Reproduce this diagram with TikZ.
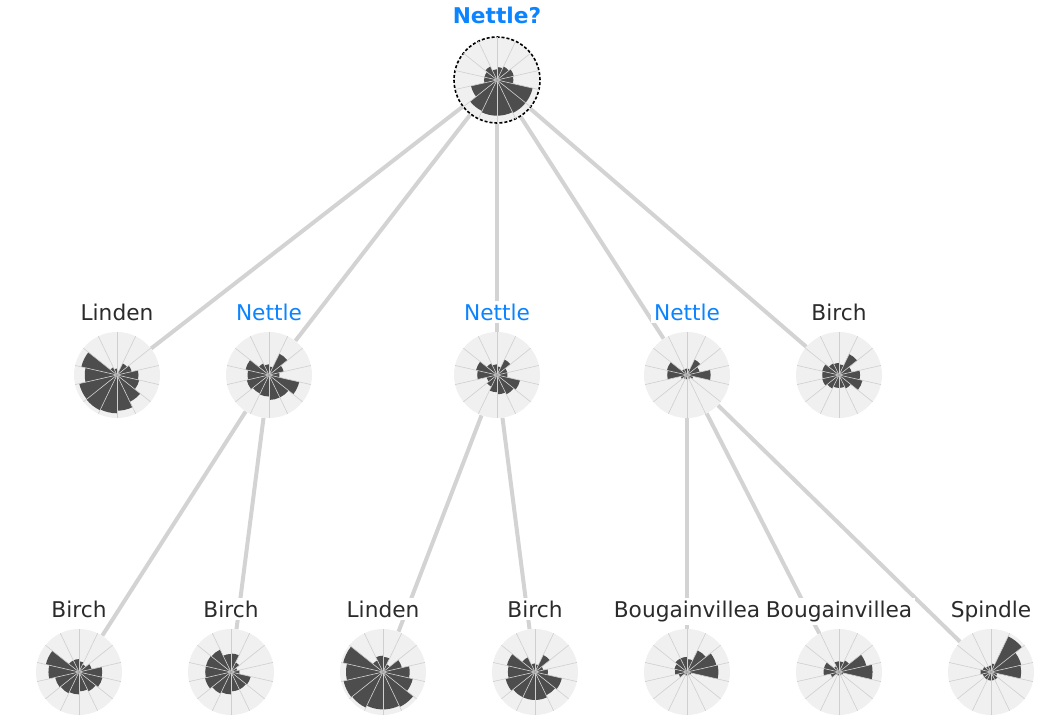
\documentclass[tikz,border=0pt]{standalone}
\usepackage{fontspec}
\setmainfont{DejaVu Sans}
\usepackage{tikz}
\usetikzlibrary{backgrounds}
\definecolor{petal}{HTML}{4D4D4D}
\definecolor{disc}{HTML}{F0F0F0}
\definecolor{spokecol}{HTML}{CFCFCF}
\definecolor{linkcol}{HTML}{D3D3D3}
\definecolor{hit}{HTML}{0A84FF}
\definecolor{ink}{HTML}{2B2B2B}
\tikzstyle{rose} = [circle, fill=disc, minimum size=86pt, inner sep=0pt]
\tikzstyle{query} = [rose, draw=black, line width=1.6pt,
    dash pattern=on 3pt off 2pt]
\tikzstyle{bar} = [fill=petal]
\tikzstyle{spoke} = [draw=spokecol, line width=0.6pt]
\tikzstyle{hub} = [fill=black!35]
\tikzstyle{link} = [draw=linkcol, line width=4pt]
\tikzstyle{tag} = [fill=white, inner sep=3pt, text=ink, anchor=base,
    font=\fontsize{21.7}{26}\selectfont]
\tikzstyle{hittag} = [tag, text=hit]

% 14 petals, first one just left of north, counter-clockwise
\newcommand{\drawrose}[2]{%
  \foreach \r [count=\k from 0] in {#2} {
    \pgfmathsetmacro\a{90+360/14*\k}
    \fill[bar] (#1.center) -- ++(\a:\r*43pt)
      arc[start angle=\a, end angle=\a+360/14, radius=\r*43pt] -- cycle;
  }
  \foreach \k in {0,...,13}
    \draw[spoke] (#1.center) -- ++({90+360/14*\k}:43pt);
  \fill[hub] (#1.center) circle (1.5pt);
}

\begin{document}
\begin{tikzpicture}[x=1pt, y=-1pt]
	\useasboundingbox (0,0) rectangle (1048,726);

	% Query
	\node [query] (q) at (497,80) {};

	% First level
	\node [rose] (linden) at (117,375) {};
	\node [rose] (nettleA) at (269,375) {};
	\node [rose] (nettleB) at (497,375) {};
	\node [rose] (nettleC) at (687,375) {};
	\node [rose] (birch) at (839,375) {};

	% Second level
	\node [rose] (birchA) at (79,672) {};
	\node [rose] (birchB) at (231,672) {};
	\node [rose] (lindenB) at (383,672) {};
	\node [rose] (birchC) at (535,672) {};
	\node [rose] (bougA) at (687,672) {};
	\node [rose] (bougB) at (839,672) {};
	\node [rose] (spindle) at (991,672) {};

	% Petals
	\drawrose{q}{.25,.35,.3,.3,.62,.8,.83,.83,.85,.85,.38,.4,.35,.3}
	\drawrose{linden}{.15,.2,.85,.75,.9,.91,.89,.83,.69,.53,.5,.35,.3,.1}
	\drawrose{nettleA}{.25,.3,.56,.5,.53,.48,.5,.58,.58,.72,.25,.35,.55,.2}
	\drawrose{nettleB}{.25,.3,.5,.46,.25,.3,.4,.45,.5,.55,.25,.25,.4,.2}
	\drawrose{nettleC}{.15,.15,.48,.46,.15,.1,.1,.1,.1,.15,.55,.3,.4,.15}
	\drawrose{birch}{.28,.3,.4,.39,.4,.35,.3,.3,.35,.56,.49,.3,.54,.25}
	\drawrose{birchA}{.3,.3,.79,.71,.57,.55,.52,.45,.5,.56,.54,.3,.2,.25}
	\drawrose{birchB}{.42,.58,.6,.6,.62,.56,.52,.45,.45,.47,.2,.15,.25,.43}
	\drawrose{lindenB}{.38,.3,.95,.86,.94,.92,.87,.87,.9,.71,.62,.45,.2,.35}
	\drawrose{birchC}{.2,.38,.67,.63,.7,.65,.65,.65,.6,.64,.3,.2,.44,.18}
	\drawrose{bougA}{.35,.35,.3,.28,.2,.08,.08,.08,.08,.1,.73,.7,.56,.3}
	\drawrose{bougB}{.25,.15,.36,.36,.2,.08,.08,.08,.08,.1,.78,.65,.3,.25}
	\drawrose{spindle}{.15,.15,.2,.25,.2,.2,.2,.2,.2,.15,.7,.72,.92,.2}

	% Labels
	\node [hittag, font=\fontsize{21.7}{26}\selectfont\bfseries] (qlab)
		at ([yshift=57pt]q.center) {Nettle?};
	\node [tag] (l1) at ([yshift=55pt]linden.center) {Linden};
	\node [hittag] (l2) at ([yshift=55pt]nettleA.center) {Nettle};
	\node [hittag] (l3) at ([yshift=55pt]nettleB.center) {Nettle};
	\node [hittag] (l4) at ([yshift=55pt]nettleC.center) {Nettle};
	\node [tag] (l5) at ([yshift=55pt]birch.center) {Birch};
	\node [tag] (l6) at ([yshift=55pt]birchA.center) {Birch};
	\node [tag] (l7) at ([yshift=55pt]birchB.center) {Birch};
	\node [tag] (l8) at ([yshift=55pt]lindenB.center) {Linden};
	\node [tag] (l9) at ([yshift=55pt]birchC.center) {Birch};
	\node [tag] (l10) at ([yshift=55pt]bougA.center) {Bougainvillea};
	\node [tag] (l11) at ([yshift=55pt]bougB.center) {Bougainvillea};
	\node [tag] (l12) at ([yshift=55pt]spindle.center) {Spindle};

	% Links, behind everything
	\begin{scope}[on background layer]
		\draw [link] (q) -- (linden);
		\draw [link] (q) -- (nettleA);
		\draw [link] (q) -- (nettleB);
		\draw [link] (q) -- (nettleC);
		\draw [link] (q) -- (birch);
		\draw [link] (nettleA) -- (birchA);
		\draw [link] (nettleA) -- (birchB);
		\draw [link] (nettleB) -- (lindenB);
		\draw [link] (nettleB) -- (birchC);
		\draw [link] (nettleC) -- (bougA);
		\draw [link] (nettleC) -- (bougB);
		\draw [link] (nettleC) -- (spindle);
	\end{scope}
\end{tikzpicture}
\end{document}
